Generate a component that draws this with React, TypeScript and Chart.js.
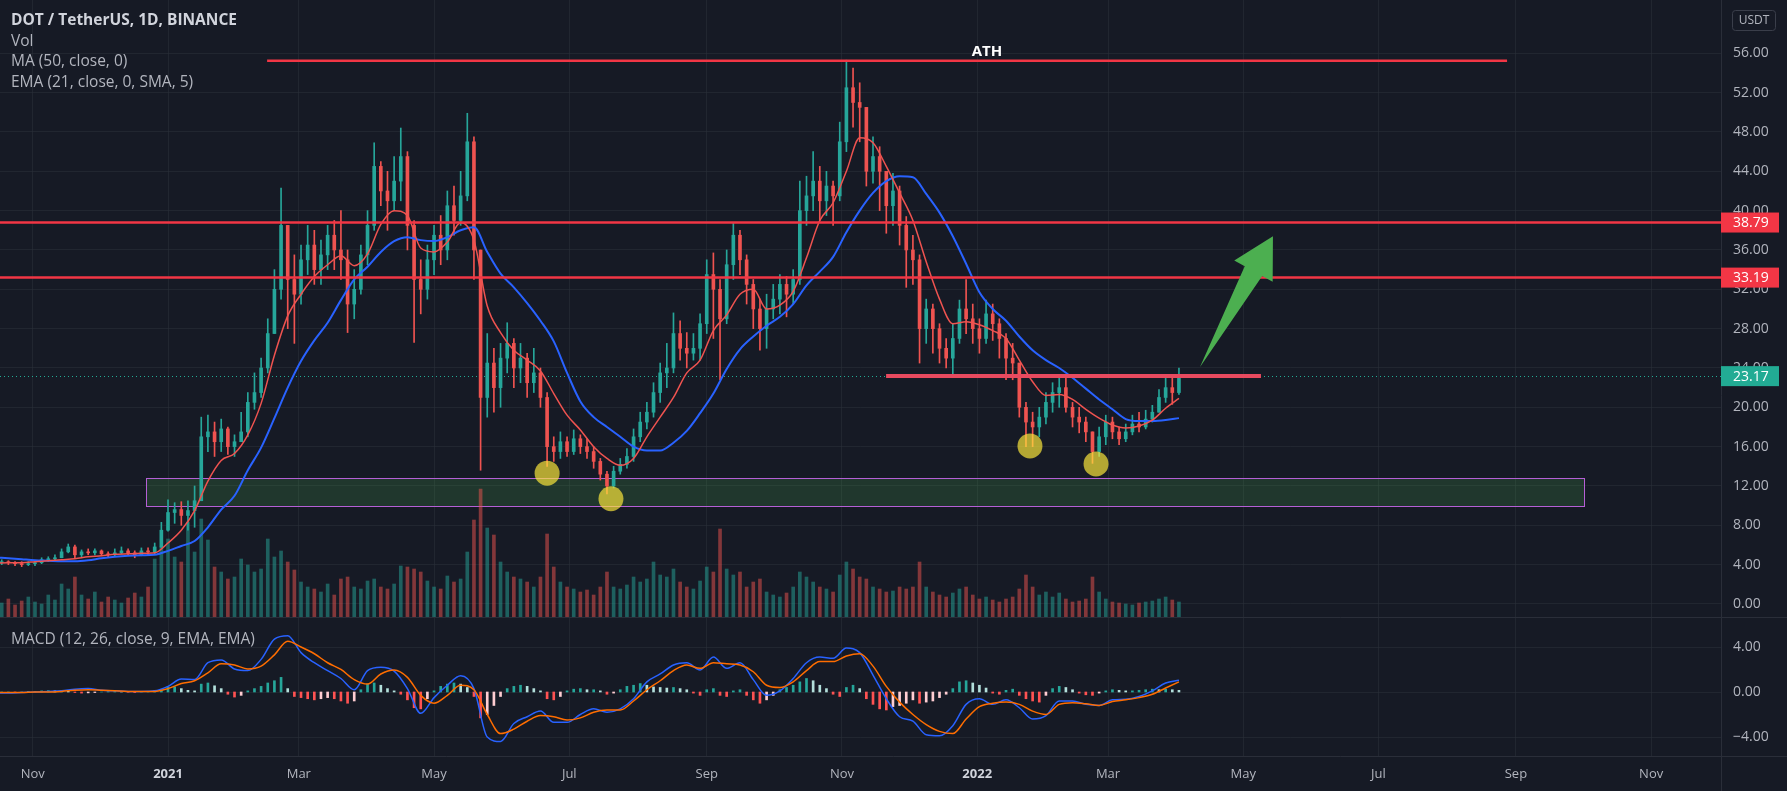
import React, { useEffect, useRef } from 'react';
import { Chart, registerables } from 'chart.js';

Chart.register(...registerables);

// ---------- time base: days counted from 2021-01-01 ----------
const CANDLE_START_DAY = -75;
const CANDLE_STEP_DAYS = 3;
const FIRST_OPEN = 4.2;

const CLOSE = [
  4.3, 4.2, 4.1, 4.0, 4.1, 4.2, 4.5, 4.6, 4.7, 5.3,
  5.8, 5.0, 5.3, 5.2, 5.4, 5.1, 5.0, 5.2, 5.4, 5.2,
  5.0, 5.4, 5.3, 5.8, 7.5, 9.3, 9.6, 9.0, 9.5, 10.5,
  17.0, 17.5, 16.5, 17.8, 16.0, 16.5, 17.5, 20.5, 21.5, 24.0,
  27.5, 32.0, 38.5, 33.0, 31.5, 35.0, 36.5, 34.0, 35.5, 37.5,
  36.0, 35.0, 30.5, 32.0, 35.5, 38.5, 44.5, 42.0, 41.0, 43.0,
  45.5, 38.5, 33.0, 32.0, 35.0, 37.5, 36.0, 40.5, 39.0, 41.5,
  47.0, 36.0, 21.0, 24.5, 22.0, 25.0, 26.5, 24.0, 25.0, 22.5,
  23.5, 21.0, 16.0, 15.5, 16.5, 15.5, 16.8, 16.0, 15.5, 14.5,
  13.2, 12.0, 13.5, 14.2, 15.0, 17.0, 18.5, 19.5, 21.5, 23.5,
  24.0, 27.5, 26.0, 25.5, 26.0, 28.5, 33.5, 32.0, 29.0, 34.5,
  37.5, 35.0, 32.5, 30.0, 28.0, 30.0, 31.0, 32.5, 31.5, 33.0,
  40.0, 41.5, 43.0, 41.0, 42.5, 41.5, 47.0, 52.5, 51.0, 50.5,
  44.0, 45.5, 44.0, 40.5, 42.0, 38.5, 36.0, 35.0, 28.0, 30.0,
  28.0, 26.0, 25.0, 27.0, 30.0, 29.0, 28.0, 27.0, 29.5, 28.5,
  27.0, 25.0, 24.5, 20.0, 18.5, 18.0, 19.0, 20.5, 21.5, 22.0,
  20.0, 19.0, 18.5, 17.5, 15.5, 17.0, 18.5, 17.5, 16.8, 17.5,
  18.3, 18.0, 18.8, 19.5, 21.0, 22.0, 21.5, 23.17,
];

const HIGH = [
  4.5, 4.4, 4.3, 4.3, 4.3, 4.4, 4.7, 4.8, 5.0, 5.6,
  6.1, 6.0, 5.5, 5.6, 5.6, 5.5, 5.3, 5.6, 5.8, 5.6,
  5.4, 5.7, 5.7, 6.2, 8.3, 10.6, 10.3, 10.4, 10.5, 12.0,
  19.0, 19.2, 18.5, 18.8, 18.0, 17.2, 19.5, 21.5, 23.5, 25.0,
  29.0, 34.0, 42.3, 38.5, 35.5, 36.5, 38.5, 38.0, 37.0, 38.5,
  39.0, 40.0, 36.0, 34.0, 36.5, 40.0, 46.9, 45.0, 44.0, 45.5,
  48.4, 46.0, 39.0, 35.0, 36.5, 38.5, 39.5, 42.0, 42.5, 44.0,
  49.9, 47.5, 36.0, 27.5, 26.0, 26.5, 28.6, 27.0, 26.5, 25.5,
  26.0, 24.0, 21.5, 17.0, 17.5, 17.0, 17.7, 17.2, 16.8, 16.0,
  14.8, 13.5, 14.0, 14.8, 15.8, 17.8, 19.5, 20.5, 22.5, 24.5,
  26.5, 29.6, 28.8, 27.6, 27.5, 29.5, 35.0, 35.7, 33.0, 36.0,
  38.7, 38.0, 35.5, 33.0, 31.0, 31.5, 32.5, 33.5, 33.3, 34.0,
  43.0, 43.5, 46.0, 44.5, 44.0, 43.0, 49.0, 55.3, 54.5, 53.0,
  50.5, 47.5, 46.5, 44.0, 43.8, 42.5, 39.4, 37.5, 35.5, 31.0,
  30.5, 28.5, 27.0, 28.5, 30.9, 33.0, 30.5, 29.0, 30.9, 30.5,
  29.0, 27.5, 26.5, 24.5, 20.5, 19.5, 20.0, 21.5, 22.5, 23.1,
  23.0, 20.5, 20.0, 19.0, 17.5, 18.0, 19.2, 19.0, 18.0, 18.3,
  19.2, 19.5, 19.7, 20.2, 21.8, 23.0, 23.1, 24.0,
];

const LOW = [
  4.0, 4.0, 3.9, 3.8, 3.9, 3.9, 4.1, 4.3, 4.4, 4.7,
  5.2, 4.7, 4.8, 5.0, 5.0, 4.9, 4.7, 4.9, 5.1, 4.9,
  4.7, 4.9, 5.0, 5.1, 5.7, 7.4, 8.2, 8.0, 7.5, 7.8,
  10.5, 15.5, 15.0, 15.5, 15.2, 15.0, 16.5, 17.0, 19.8, 21.0,
  23.5, 27.5, 31.0, 28.0, 26.5, 30.5, 33.5, 32.5, 32.5, 34.0,
  34.0, 33.0, 27.6, 29.0, 31.5, 34.5, 38.0, 40.5, 38.0, 40.0,
  41.0, 36.0, 26.6, 29.5, 31.0, 33.5, 34.5, 35.0, 37.5, 38.5,
  41.0, 33.0, 13.6, 19.0, 19.5, 20.0, 23.5, 22.0, 22.5, 21.0,
  21.5, 20.0, 14.0, 14.5, 14.8, 15.0, 15.2, 15.3, 14.8, 13.8,
  12.6, 11.2, 11.8, 13.2, 13.8, 14.5, 16.5, 17.8, 19.0, 20.5,
  22.0, 23.5, 24.8, 24.0, 24.8, 24.8, 27.5, 27.0, 22.8, 28.5,
  33.0, 33.5, 30.5, 28.0, 25.8, 26.0, 29.0, 29.5, 29.2, 30.5,
  32.5, 38.5, 40.0, 39.0, 39.5, 38.5, 41.0, 46.0, 48.5, 47.0,
  42.5, 42.8, 40.0, 37.7, 38.5, 36.5, 32.2, 32.5, 24.5, 26.5,
  25.5, 24.5, 24.0, 23.3, 26.5, 27.5, 26.5, 25.5, 26.5, 26.8,
  25.0, 22.8, 22.8, 19.0, 16.0, 16.0, 17.0, 18.3, 19.5, 20.0,
  19.5, 18.0, 17.4, 16.5, 14.3, 15.0, 16.2, 16.8, 16.2, 16.5,
  17.2, 17.5, 17.8, 18.5, 19.5, 20.5, 20.3, 21.3,
];

const VOLUME = [
  14, 18, 12, 16, 20, 15, 13, 22, 17, 33,
  28, 40, 22, 18, 25, 15, 20, 17, 14, 19,
  24, 20, 30, 58, 70, 78, 60, 55, 95, 65,
  98, 77, 50, 45, 38, 40, 58, 52, 45, 48,
  78, 60, 66, 55, 47, 35, 30, 28, 25, 33,
  22, 38, 40, 30, 28, 36, 38, 30, 28, 33,
  51, 50, 48, 45, 36, 30, 28, 41, 35, 38,
  65, 97, 128, 89, 82, 55, 45, 40, 38, 35,
  30, 40, 83, 50, 35, 30, 28, 25, 27, 22,
  30, 45, 30, 28, 32, 40, 35, 38, 55, 42,
  40, 48, 35, 30, 28, 36, 50, 45, 88, 48,
  42, 45, 30, 35, 38, 25, 22, 20, 24, 30,
  45, 40, 35, 30, 28, 25, 42, 55, 48, 40,
  38, 30, 28, 25, 26, 30, 28, 30, 55, 30,
  25, 22, 20, 24, 28, 30, 22, 18, 20, 17,
  15, 18, 20, 28, 42, 30, 22, 25, 20, 24,
  18, 15, 16, 18, 40, 25, 18, 15, 14, 13,
  12, 14, 15, 16, 18, 20, 17, 15,
];

const MACD_HIST = [
  0, 0, -0.05, 0, 0.05, 0.05, 0.1, 0.12, 0.1, 0.15,
  0.1, -0.05, -0.1, -0.08, -0.05, 0, 0.03, 0.05, 0.03, -0.02,
  -0.05, 0, 0.05, 0.15, 0.2, 0.45, 0.45, 0.3, 0.15, 0.1,
  0.7, 0.8, 0.55, 0.3, -0.2, -0.45, -0.3, 0.1, 0.3, 0.5,
  0.8, 1.0, 1.3, 0.3, -0.4, -0.5, -0.6, -0.7, -0.6, -0.5,
  -0.6, -0.8, -1.0, -0.8, 0.2, 0.7, 0.8, 0.6, 0.3, 0.1,
  -0.2, -0.7, -1.4, -1.5, -0.6, 0.1, 0.5, 0.7, 0.8, 0.7,
  0.4, -0.4, -2.3, -2.0, -1.2, -0.4, 0.3, 0.5, 0.6, 0.5,
  0.3, 0.1, -0.6, -0.7, -0.4, 0.1, 0.25, 0.3, 0.2, 0.2,
  0.1, -0.2, -0.1, 0.2, 0.5, 0.6, 0.75, 0.6, 0.45, 0.4,
  0.35, 0.4, 0.3, 0.2, -0.1, -0.3, 0.2, 0.3, -0.3, -0.4,
  0.1, 0.2, -0.3, -0.7, -1.0, -0.7, -0.3, 0.2, 0.4, 0.6,
  0.9, 1.2, 1.0, 0.6, 0.3, -0.2, -0.4, 0.4, 0.6, 0.3,
  -0.6, -1.1, -1.5, -1.6, -1.3, -1.2, -1.0, -0.7, -1.0, -0.9,
  -0.8, -0.5, -0.2, 0.3, 0.9, 1.0, 0.8, 0.6, 0.35, -0.1,
  -0.2, 0.15, 0.25, -0.3, -0.6, -0.8, -0.9, -0.3, 0.3, 0.5,
  0.4, 0.2, -0.1, -0.25, -0.3, -0.1, 0.1, 0.2, 0.15, 0.1,
  0.1, 0.15, 0.2, 0.25, 0.2, 0.25, 0.2, 0.15,
];

// indicator lines, sampled every 6 days
const LINE_START_DAY = -78;
const LINE_STEP_DAYS = 6;

const MA50 = [
  4.75, 4.65, 4.55, 4.45, 4.4, 4.35, 4.35, 4.45, 4.65, 4.8,
  4.9, 4.95, 5.0, 5.4, 5.9, 6.4, 7.8, 9.6, 11.0, 13.6,
  15.9, 18.9, 22.0, 24.7, 26.8, 28.6, 30.9, 33.0, 34.3, 35.8,
  36.9, 37.3, 37.0, 36.9, 37.3, 38.0, 38.3, 35.8, 33.6, 32.2,
  30.6, 28.8, 26.7, 23.5, 20.6, 19.0, 18.0, 17.0, 16.0, 15.6,
  15.6, 16.4, 17.6, 19.4, 21.4, 23.9, 25.9, 27.2, 28.3, 29.2,
  30.5, 32.4, 33.8, 35.3, 37.8, 40.0, 41.8, 43.0, 43.5, 43.4,
  41.7, 39.8, 37.4, 34.6, 31.7, 30.0, 28.8, 27.2, 25.8, 24.8,
  24.0, 23.0, 21.9, 20.8, 19.8, 18.8, 18.6, 18.6, 18.7, 18.9,
];

const EMA21 = [
  4.15, 4.2, 4.2, 4.3, 4.4, 4.5, 4.6, 4.8, 4.9, 5.05,
  5.1, 5.15, 5.2, 6.2, 7.5, 9.5, 12.5, 14.6, 15.3, 17.2,
  20.4, 25.3, 29.3, 31.5, 33.3, 34.5, 35.4, 34.4, 35.6, 38.6,
  40.0, 39.5, 36.2, 35.8, 36.8, 38.8, 37.0, 30.3, 27.6, 25.8,
  24.8, 23.7, 21.4, 19.2, 17.7, 16.0, 14.8, 14.1, 14.8, 17.0,
  19.0, 21.0, 23.5, 24.8, 27.8, 29.4, 31.5, 32.0, 30.0, 30.4,
  31.8, 35.2, 39.0, 40.8, 44.0, 47.4, 46.9, 44.5, 41.8, 39.0,
  34.8, 31.0, 28.5, 28.7, 28.4, 27.8, 27.0, 24.8, 22.6, 21.2,
  21.3, 20.8, 19.8, 18.9, 18.2, 17.9, 18.1, 18.7, 19.9, 20.9,
];

const MACD_LINE = [
  -0.1, -0.1, -0.05, 0.0, 0.05, 0.1, 0.25, 0.3, 0.15, 0.1,
  0.05, 0.05, 0.1, 0.5, 1.15, 1.1, 2.6, 2.85, 2.05, 1.9,
  2.9, 4.7, 5.0, 3.5, 2.6, 1.9, 1.2, 0.2, 1.9, 2.2,
  1.85, 0.3, -1.9, -0.5, 0.6, 1.45, 0.3, -4.0, -4.4, -2.8,
  -2.2, -1.7, -2.7, -2.7, -2.0, -1.5, -1.8, -1.5, -0.6, 0.9,
  1.6, 2.4, 2.6, 1.96, 3.1, 2.1, 2.6, 1.1, -0.3, 0.1,
  1.2, 2.6, 3.1, 3.0, 3.9, 3.5, 1.5, -0.6, -2.2, -2.6,
  -3.8, -3.9, -3.0, -1.1, -0.6, -1.1, -0.7, -1.4, -2.4, -2.1,
  -0.8, -0.8, -1.1, -1.2, -0.7, -0.65, -0.4, 0.1, 0.8, 1.04,
];

const SIGNAL_LINE = [
  -0.05, -0.05, -0.05, 0.0, 0.0, 0.05, 0.15, 0.2, 0.15, 0.1,
  0.05, 0.05, 0.05, 0.3, 0.75, 1.0, 1.7, 2.5, 2.4, 2.05,
  2.3, 3.3, 4.5, 4.0, 3.4, 2.6, 2.0, 1.1, 0.7, 1.6,
  1.95, 1.3, -0.3, -1.0, -0.3, 0.6, 0.2, -2.0, -3.7, -3.3,
  -2.6, -2.1, -2.2, -2.5, -2.3, -1.8, -1.6, -1.6, -0.8, 0.2,
  1.0, 1.9, 2.4, 2.1, 2.6, 2.5, 2.4, 1.8, 0.6, 0.4,
  0.9, 1.9, 2.7, 2.7, 3.2, 3.4, 2.3, 0.5, -0.9, -2.0,
  -2.9, -3.5, -3.7, -2.4, -1.3, -1.0, -0.9, -1.1, -1.7, -2.0,
  -1.1, -0.95, -1.05, -1.2, -0.85, -0.7, -0.5, -0.2, 0.35, 0.9,
];

// axes
const TIME_TICK_DAYS = [-61, 0, 59, 120, 181, 243, 304, 365, 424, 485, 546, 608, 669];
const TIME_TICK_LABELS = ['Nov', '2021', 'Mar', 'May', 'Jul', 'Sep', 'Nov', '2022', 'Mar', 'May', 'Jul', 'Sep', 'Nov'];
const PRICE_TICKS = [0, 4, 8, 12, 16, 20, 24, 28, 32, 36, 40, 44, 48, 52, 56];
const MACD_TICKS = [-4, 0, 4];

// drawings
const ATH_LEVEL = 55.25;
const ATH_FROM_DAY = 44.7;
const ATH_TO_DAY = 604;
const ATH_LABEL_DAY = 369.4;
const RESISTANCE_LEVELS = [38.79, 33.19];
const NECKLINE_LEVEL = 23.18;
const NECKLINE_FROM_DAY = 323.9;
const NECKLINE_TO_DAY = 493;
const LAST_PRICE = 23.17;
const ZONE_LOW = 9.97;
const ZONE_HIGH = 12.81;
const ZONE_FROM_DAY = -9.9;
const ZONE_TO_DAY = 638.7;
const PIVOT_DAYS = [171, 199.8, 388.8, 418.6];
const PIVOT_PRICES = [13.3, 10.7, 16.07, 14.24];
const ARROW_FROM = [465.5, 24.1];
const ARROW_TO = [498.4, 37.4];

// view ranges (each pane shares the full plot height)
const X_MIN = -75.78;
const X_MAX = 700.5;
const PRICE_MIN = -15.46;
const PRICE_MAX = 61.42;
const MACD_MIN = -5.69;
const MACD_MAX = 61.51;
const VOL_MIN = -139;
const VOL_MAX = 617;

// styles
const FONT = "'Open Sans', 'DejaVu Sans', sans-serif";
const BG = '#161a25';
const GRID = 'rgba(42, 46, 57, 0.6)';
const AXIS_LINE = '#2a2e39';
const TEXT = '#b2b5be';
const UP = '#26a69a';
const DOWN = '#ef5350';
const RED_LINE = '#f23645';
const TAG_TEAL = '#22ab94';

const fmt = (v: number) => v.toFixed(2).replace('-', '\u2212');

const overlayPlugin = {
  id: 'tvOverlay',
  beforeDraw(chart: any) {
    const { ctx, width, height } = chart;
    ctx.save();
    ctx.fillStyle = BG;
    ctx.fillRect(0, 0, width, height);
    ctx.restore();
  },
  beforeDatasetsDraw(chart: any) {
    const { ctx, chartArea: a, scales } = chart;
    const xs = scales.x, ys = scales.y, ym = scales.yMacd;
    ctx.save();
    ctx.lineWidth = 1;
    ctx.strokeStyle = GRID;
    for (const v of MACD_TICKS) {
      const py = Math.round(ym.getPixelForValue(v)) + 0.5;
      ctx.beginPath();
      ctx.moveTo(a.left, py);
      ctx.lineTo(a.right, py);
      ctx.stroke();
    }
    // support zone
    const zx0 = xs.getPixelForValue(ZONE_FROM_DAY);
    const zx1 = xs.getPixelForValue(ZONE_TO_DAY);
    const zy0 = ys.getPixelForValue(ZONE_HIGH);
    const zy1 = ys.getPixelForValue(ZONE_LOW);
    ctx.fillStyle = 'rgba(76, 175, 80, 0.2)';
    ctx.fillRect(zx0, zy0, zx1 - zx0, zy1 - zy0);
    ctx.strokeStyle = '#b55fd6';
    ctx.strokeRect(Math.round(zx0) + 0.5, Math.round(zy0) + 0.5, Math.round(zx1 - zx0), Math.round(zy1 - zy0));
    // last price dotted line
    const lp = Math.round(ys.getPixelForValue(LAST_PRICE)) + 0.5;
    ctx.strokeStyle = TAG_TEAL;
    ctx.setLineDash([1, 3]);
    ctx.beginPath();
    ctx.moveTo(a.left, lp);
    ctx.lineTo(a.right, lp);
    ctx.stroke();
    ctx.restore();
  },
  afterDatasetsDraw(chart: any) {
    const { ctx, chartArea: a, scales } = chart;
    const xs = scales.x, ys = scales.y;
    ctx.save();
    ctx.strokeStyle = RED_LINE;
    ctx.lineWidth = 2.5;
    for (const lvl of RESISTANCE_LEVELS) {
      const py = ys.getPixelForValue(lvl);
      ctx.beginPath();
      ctx.moveTo(a.left, py);
      ctx.lineTo(a.right, py);
      ctx.stroke();
    }
    const athY = ys.getPixelForValue(ATH_LEVEL);
    ctx.beginPath();
    ctx.moveTo(xs.getPixelForValue(ATH_FROM_DAY), athY);
    ctx.lineTo(xs.getPixelForValue(ATH_TO_DAY), athY);
    ctx.stroke();
    ctx.fillStyle = '#ffffff';
    ctx.font = `bold 15px ${FONT}`;
    ctx.textAlign = 'center';
    ctx.textBaseline = 'bottom';
    ctx.fillText('ATH', xs.getPixelForValue(ATH_LABEL_DAY), athY - 1);

    // neckline
    const ny = ys.getPixelForValue(NECKLINE_LEVEL);
    ctx.strokeStyle = '#e84a5f';
    ctx.lineWidth = 4;
    ctx.beginPath();
    ctx.moveTo(xs.getPixelForValue(NECKLINE_FROM_DAY), ny);
    ctx.lineTo(xs.getPixelForValue(NECKLINE_TO_DAY), ny);
    ctx.stroke();

    // arrow
    const p0x = xs.getPixelForValue(ARROW_FROM[0]);
    const p0y = ys.getPixelForValue(ARROW_FROM[1]);
    const p1x = xs.getPixelForValue(ARROW_TO[0]);
    const p1y = ys.getPixelForValue(ARROW_TO[1]);
    const dx = p1x - p0x, dy = p1y - p0y;
    const len = Math.hypot(dx, dy);
    const ux = dx / len, uy = dy / len;
    const nx = -uy, ny2 = ux;
    const headLen = 40, headHalf = 22, shaftHalf = 10;
    const bx = p1x - ux * headLen, by = p1y - uy * headLen;
    ctx.fillStyle = '#4caf50';
    ctx.beginPath();
    ctx.moveTo(p0x, p0y);
    ctx.lineTo(bx + nx * shaftHalf, by + ny2 * shaftHalf);
    ctx.lineTo(bx + nx * headHalf, by + ny2 * headHalf);
    ctx.lineTo(p1x, p1y);
    ctx.lineTo(bx - nx * headHalf, by - ny2 * headHalf);
    ctx.lineTo(bx - nx * shaftHalf, by - ny2 * shaftHalf);
    ctx.closePath();
    ctx.fill();
    ctx.restore();
  },
  afterDraw(chart: any) {
    const { ctx, chartArea: a, scales, width, height } = chart;
    const ys = scales.y, ym = scales.yMacd, yv = scales.yVol;
    ctx.save();
    // separators
    ctx.strokeStyle = AXIS_LINE;
    ctx.lineWidth = 1;
    const sep = Math.round(yv.getPixelForValue(0)) + 0.5;
    ctx.beginPath();
    ctx.moveTo(0, sep); ctx.lineTo(width, sep);
    ctx.moveTo(0, Math.round(a.bottom) + 0.5); ctx.lineTo(width, Math.round(a.bottom) + 0.5);
    ctx.moveTo(Math.round(a.right) + 0.5, 0); ctx.lineTo(Math.round(a.right) + 0.5, height);
    ctx.stroke();

    // MACD axis labels
    ctx.font = `14px ${FONT}`;
    ctx.fillStyle = TEXT;
    ctx.textAlign = 'left';
    ctx.textBaseline = 'middle';
    for (const v of MACD_TICKS) {
      ctx.fillText(fmt(v), a.right + 12, ym.getPixelForValue(v));
    }

    // price tags
    const tag = (v: number, color: string) => {
      const py = ys.getPixelForValue(v);
      ctx.fillStyle = color;
      ctx.fillRect(a.right, py - 10, 58, 20);
      ctx.fillStyle = '#ffffff';
      ctx.fillText(v.toFixed(2), a.right + 12, py + 0.5);
    };
    tag(RESISTANCE_LEVELS[0], RED_LINE);
    tag(RESISTANCE_LEVELS[1], RED_LINE);
    tag(LAST_PRICE, TAG_TEAL);

    // currency box
    ctx.strokeStyle = '#3a3e4a';
    ctx.beginPath();
    ctx.roundRect(1732.5, 10.5, 43, 20, 3);
    ctx.stroke();
    ctx.fillStyle = TEXT;
    ctx.font = `12px ${FONT}`;
    ctx.textAlign = 'center';
    ctx.fillText('USDT', 1754, 21);

    // legends
    ctx.textAlign = 'left';
    ctx.fillStyle = '#d1d4dc';
    ctx.font = `bold 15.5px ${FONT}`;
    ctx.fillText('DOT / TetherUS, 1D, BINANCE', 11, 21);
    ctx.fillStyle = TEXT;
    ctx.font = `15.5px ${FONT}`;
    ctx.fillText('Vol', 11, 42);
    ctx.fillText('MA (50, close, 0)', 11, 62);
    ctx.fillText('EMA (21, close, 0, SMA, 5)', 11, 83);
    ctx.fillText('MACD (12, 26, close, 9, EMA, EMA)', 11, sep + 22);
    ctx.restore();
  },
};

export default function App() {
  const canvasRef = useRef<HTMLCanvasElement | null>(null);

  useEffect(() => {
    document.body.style.margin = '0';
    document.body.style.background = BG;
    const canvas = canvasRef.current;
    if (!canvas) return;

    const candleDays = CLOSE.map((_, i) => CANDLE_START_DAY + i * CANDLE_STEP_DAYS);
    const opens = CLOSE.map((_, i) => (i === 0 ? FIRST_OPEN : CLOSE[i - 1]));
    const lineDays = MA50.map((_, j) => LINE_START_DAY + j * LINE_STEP_DAYS);
    const isUp = (i: number) => CLOSE[i] >= opens[i];
    const histColor = (i: number) => {
      const v = MACD_HIST[i];
      const prev = i > 0 ? MACD_HIST[i - 1] : 0;
      if (v >= 0) return v >= prev ? '#26a69a' : '#b2dfdb';
      return v <= prev ? '#ff5252' : '#ffcdd2';
    };
    const lineData = (arr: number[]) => arr.map((v, j) => ({ x: lineDays[j], y: v }));
    const isYear = (v: any) => {
      const idx = TIME_TICK_DAYS.indexOf(Number(v));
      return idx >= 0 && /^\d{4}$/.test(TIME_TICK_LABELS[idx]);
    };

    const chart = new Chart(canvas, {
      type: 'bar',
      data: {
        datasets: [
          {
            type: 'scatter',
            data: PIVOT_DAYS.map((d, i) => ({ x: d, y: PIVOT_PRICES[i] })),
            pointRadius: 12.5,
            pointBackgroundColor: 'rgba(255, 235, 59, 0.68)',
            pointBorderWidth: 0,
            xAxisID: 'x',
            yAxisID: 'y',
            order: 0,
          } as any,
          {
            type: 'line',
            data: lineData(EMA21),
            borderColor: '#ef5350',
            borderWidth: 1.5,
            pointRadius: 0,
            cubicInterpolationMode: 'monotone',
            xAxisID: 'x',
            yAxisID: 'y',
            order: 1,
          } as any,
          {
            type: 'line',
            data: lineData(MA50),
            borderColor: '#2962ff',
            borderWidth: 2,
            pointRadius: 0,
            cubicInterpolationMode: 'monotone',
            xAxisID: 'x',
            yAxisID: 'y',
            order: 2,
          } as any,
          {
            type: 'bar',
            data: candleDays.map((d, i) => ({ x: d, y: [opens[i], CLOSE[i]] })),
            backgroundColor: (c: any) => (isUp(c.dataIndex) ? UP : DOWN),
            barThickness: 3,
            minBarLength: 1,
            grouped: false,
            xAxisID: 'x',
            yAxisID: 'y',
            order: 3,
          } as any,
          {
            type: 'bar',
            data: candleDays.map((d, i) => ({ x: d, y: [LOW[i], HIGH[i]] })),
            backgroundColor: (c: any) => (isUp(c.dataIndex) ? UP : DOWN),
            barThickness: 1,
            grouped: false,
            xAxisID: 'x',
            yAxisID: 'y',
            order: 4,
          } as any,
          {
            type: 'bar',
            data: candleDays.map((d, i) => ({ x: d, y: VOLUME[i] })),
            backgroundColor: (c: any) => (isUp(c.dataIndex) ? 'rgba(38,166,154,0.5)' : 'rgba(239,83,80,0.5)'),
            barThickness: 3,
            grouped: false,
            xAxisID: 'x',
            yAxisID: 'yVol',
            order: 5,
          } as any,
          {
            type: 'line',
            data: lineData(SIGNAL_LINE),
            borderColor: '#ff6d00',
            borderWidth: 1.5,
            pointRadius: 0,
            cubicInterpolationMode: 'monotone',
            xAxisID: 'x',
            yAxisID: 'yMacd',
            order: 1,
          } as any,
          {
            type: 'line',
            data: lineData(MACD_LINE),
            borderColor: '#2962ff',
            borderWidth: 1.5,
            pointRadius: 0,
            cubicInterpolationMode: 'monotone',
            xAxisID: 'x',
            yAxisID: 'yMacd',
            order: 2,
          } as any,
          {
            type: 'bar',
            data: candleDays.map((d, i) => ({ x: d, y: MACD_HIST[i] })),
            backgroundColor: (c: any) => histColor(c.dataIndex),
            barThickness: 2,
            grouped: false,
            xAxisID: 'x',
            yAxisID: 'yMacd',
            order: 3,
          } as any,
        ],
      },
      options: {
        animation: false,
        responsive: false,
        devicePixelRatio: 1,
        events: [],
        layout: { padding: 0, autoPadding: false },
        plugins: { legend: { display: false }, tooltip: { enabled: false } },
        scales: {
          x: {
            type: 'linear',
            position: 'bottom',
            min: X_MIN,
            max: X_MAX,
            offset: false,
            afterBuildTicks: (s: any) => {
              s.ticks = TIME_TICK_DAYS.map((v) => ({ value: v }));
            },
            afterFit: (s: any) => {
              s.height = 35;
              s.paddingLeft = 0;
              s.paddingRight = 0;
            },
            grid: { color: GRID, drawTicks: false, offset: false },
            border: { display: false },
            ticks: {
              autoSkip: false,
              maxRotation: 0,
              padding: 10,
              color: (c: any) => (isYear(c.tick?.value) ? '#d1d4dc' : TEXT),
              font: (c: any) => ({ family: FONT, size: 13, weight: isYear(c.tick?.value) ? 'bold' : 'normal' }),
              callback: (v: any) => {
                const idx = TIME_TICK_DAYS.indexOf(Number(v));
                return idx >= 0 ? TIME_TICK_LABELS[idx] : '';
              },
            },
          },
          y: {
            type: 'linear',
            position: 'right',
            min: PRICE_MIN,
            max: PRICE_MAX,
            afterBuildTicks: (s: any) => {
              s.ticks = PRICE_TICKS.map((v) => ({ value: v }));
            },
            afterFit: (s: any) => {
              s.width = 66;
              s.paddingTop = 0;
              s.paddingBottom = 0;
            },
            grid: { color: GRID, drawTicks: false },
            border: { display: false },
            ticks: {
              color: TEXT,
              padding: 12,
              font: { family: FONT, size: 14 },
              callback: (v: any) => Number(v).toFixed(2),
            },
          },
          yMacd: { type: 'linear', display: false, min: MACD_MIN, max: MACD_MAX },
          yVol: { type: 'linear', display: false, min: VOL_MIN, max: VOL_MAX },
        },
      } as any,
      plugins: [overlayPlugin],
    });

    return () => chart.destroy();
  }, []);

  return (
    <div style={{ width: 1787, height: 791, background: BG }}>
      <canvas ref={canvasRef} width={1787} height={791} style={{ display: 'block', width: 1787, height: 791 }} />
    </div>
  );
}
